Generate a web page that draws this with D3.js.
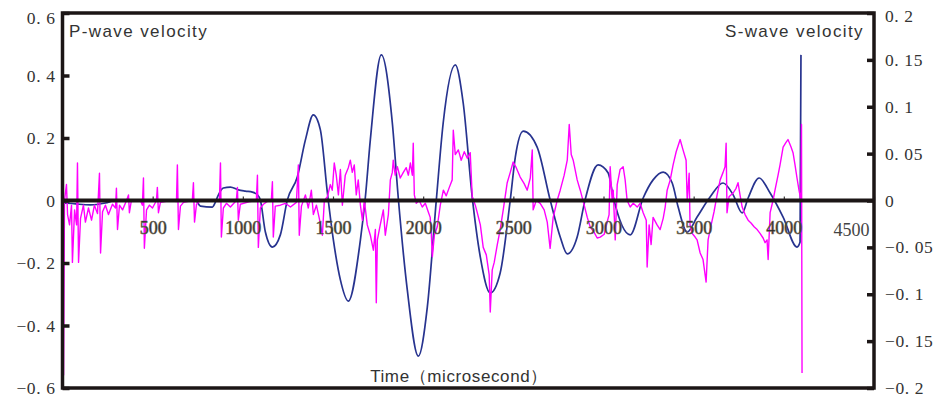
<!DOCTYPE html>
<html>
<head>
<meta charset="utf-8">
<script src="https://cdn.jsdelivr.net/npm/d3@7"></script>
<style>
  html, body { margin: 0; padding: 0; background: #fff; }
  svg { display: block; }
</style>
</head>
<body>
<div id="chart"></div>
<script>
// time axis (microseconds)
const xTicks = [500, 1000, 1500, 2000, 2500, 3000, 3500, 4000, 4500];
// left axis: P-wave velocity
const pTicks = [0.6, 0.4, 0.2, 0, -0.2, -0.4, -0.6];
// right axis: S-wave velocity
const sTicks = [0.2, 0.15, 0.1, 0.05, 0, -0.05, -0.1, -0.15, -0.2];

// P-wave velocity trace [time, value]
const pWave = [
  [0, -0.085], [11, -0.008], [72, -0.011], [155, -0.014], [238, -0.008], [294, 0],
  [737, 0], [765, -0.018], [831, -0.021], [848, -0.005], [859, 0.011], [892, 0.040],
  [931, 0.043], [975, 0.034], [1014, 0.030], [1053, 0.027], [1081, 0.018], [1097, 0.002],
  [1125, -0.101], [1164, -0.149], [1208, -0.110], [1247, 0.002], [1302, 0.075], [1347, 0.194],
  [1391, 0.274], [1430, 0.226], [1469, 0.024], [1502, -0.126], [1541, -0.254], [1585, -0.322],
  [1652, -0.126], [1679, 0.008], [1707, 0.194], [1768, 0.466], [1829, 0.248], [1862, 0.008],
  [1912, -0.286], [1973, -0.498], [2023, -0.341], [2073, 0.002], [2111, 0.248], [2178, 0.434],
  [2222, 0.312], [2272, 0.011], [2317, -0.181], [2372, -0.296], [2427, -0.232], [2483, 0.002],
  [2511, 0.139], [2555, 0.222], [2632, 0.171], [2704, 0.002], [2760, -0.117], [2799, -0.171],
  [2854, -0.117], [2898, 0.002], [2970, 0.114], [3026, 0.088], [3054, 0.011], [3148, -0.110],
  [3220, 0.008], [3275, 0.066], [3331, 0.091], [3381, 0.056], [3414, -0.021], [3464, -0.101],
  [3519, -0.053], [3591, 0.011], [3663, 0.056], [3719, 0.018], [3769, -0.040], [3802, 0.008],
  [3863, 0.072], [3924, 0.024], [3996, -0.053], [4073, -0.149], [4090, -0.133], [4095, 0.466]
];

// S-wave velocity trace [time, value]
const sWave = [
  [0, 0], [6, -0.186], [11, 0], [22, 0.017], [28, -0.015], [39, -0.026], [50, -0.005],
  [55, -0.066], [67, -0.010], [78, -0.026], [83, 0.040], [89, -0.066], [100, -0.019],
  [116, -0.005], [127, -0.023], [144, -0.008], [161, -0.021], [177, -0.005], [194, -0.014],
  [205, 0.029], [211, -0.056], [222, -0.012], [238, -0.005], [255, -0.015], [277, -0.004],
  [294, -0.008], [299, 0.013], [305, -0.031], [316, -0.005], [333, -0.010], [355, 0],
  [366, 0.006], [371, -0.013], [382, 0], [432, 0], [443, -0.005], [449, 0.024], [454, -0.051],
  [466, -0.010], [482, -0.005], [499, -0.008], [521, 0], [526, 0.014], [532, -0.013],
  [543, -0.002], [599, 0], [632, -0.001], [637, 0.038], [643, -0.031], [654, -0.006],
  [671, -0.002], [720, 0], [726, 0.019], [732, -0.023], [743, -0.004], [765, 0], [820, 0],
  [870, -0.001], [876, 0.040], [881, -0.039], [892, -0.008], [909, -0.003], [931, -0.007],
  [964, 0], [970, 0.014], [975, -0.021], [986, -0.004], [1042, -0.001], [1075, 0],
  [1081, 0.027], [1086, -0.050], [1097, -0.008], [1114, -0.004], [1136, -0.001], [1158, 0],
  [1164, 0.020], [1169, -0.039], [1180, -0.006], [1208, -0.005], [1236, -0.003], [1264, -0.007],
  [1297, -0.002], [1308, 0.038], [1313, -0.037], [1325, -0.006], [1347, 0.006], [1363, -0.008],
  [1380, 0.011], [1391, -0.015], [1408, -0.005], [1424, -0.019], [1441, -0.037], [1452, 0],
  [1469, 0.004], [1485, 0.017], [1496, 0.011], [1507, 0.040], [1518, 0.027], [1530, 0.006],
  [1541, 0.033], [1552, -0.005], [1568, 0.027], [1585, 0.035], [1596, 0.043], [1607, 0.030],
  [1618, 0.038], [1629, 0.006], [1640, 0.022], [1652, -0.005], [1663, -0.021], [1674, 0],
  [1690, -0.026], [1707, -0.037], [1724, -0.053], [1735, -0.031], [1740, -0.109], [1746, -0.042],
  [1762, -0.026], [1779, -0.010], [1790, -0.037], [1807, -0.015], [1818, 0.022], [1829, 0.030],
  [1834, 0.043], [1845, 0.027], [1857, 0.036], [1873, 0.024], [1890, 0.030], [1906, 0.035],
  [1918, 0.027], [1929, 0.040], [1940, 0.027], [1945, 0.061], [1951, 0.006], [1962, -0.003],
  [1978, 0], [1995, -0.007], [2012, -0.003], [2028, -0.012], [2039, -0.018], [2045, -0.035],
  [2051, -0.060], [2062, -0.037], [2078, -0.028], [2095, -0.005], [2112, 0.011], [2128, 0.005],
  [2145, 0.014], [2161, 0.022], [2167, 0.075], [2178, 0.049], [2195, 0.054], [2211, 0.043],
  [2228, 0.052], [2245, 0.045], [2261, 0.051], [2272, 0.004], [2289, -0.005], [2300, -0.013],
  [2317, -0.026], [2333, -0.050], [2350, -0.058], [2366, -0.079], [2372, -0.119], [2383, -0.074],
  [2394, -0.066], [2411, -0.047], [2427, -0.031], [2444, -0.010], [2466, 0.019], [2483, 0.030],
  [2499, 0.041], [2516, 0.035], [2538, 0.025], [2560, 0.018], [2577, 0.011], [2594, 0.024],
  [2605, 0.054], [2610, -0.010], [2627, 0], [2649, -0.003], [2671, -0.010], [2688, -0.023],
  [2704, -0.051], [2721, -0.018], [2743, 0], [2760, 0.011], [2782, 0.027], [2799, 0.043],
  [2810, 0.081], [2821, 0.049], [2832, 0.043], [2854, 0.022], [2871, 0.011], [2893, -0.005],
  [2910, -0.018], [2926, -0.028], [2948, -0.034], [2965, -0.040], [2982, -0.039], [3004, -0.036],
  [3020, -0.023], [3031, -0.015], [3037, 0.036], [3048, 0], [3054, 0.011], [3065, -0.042],
  [3076, 0.017], [3092, 0.033], [3109, 0.036], [3120, 0.022], [3131, 0], [3148, -0.007],
  [3165, -0.003], [3187, -0.007], [3203, -0.003], [3220, -0.013], [3237, -0.021], [3242, -0.071],
  [3253, -0.026], [3264, -0.047], [3275, -0.018], [3297, -0.026], [3314, -0.031], [3331, -0.019],
  [3342, -0.007], [3353, 0.011], [3370, 0.022], [3386, 0.038], [3403, 0.052], [3425, 0.065],
  [3441, 0.054], [3458, 0.043], [3464, 0], [3475, 0.029], [3480, -0.026], [3491, -0.035],
  [3508, -0.039], [3519, -0.042], [3536, -0.056], [3552, -0.063], [3569, -0.087], [3580, -0.042],
  [3597, -0.026], [3613, -0.012], [3630, 0.006], [3647, 0.022], [3663, 0.030], [3674, 0.036],
  [3680, 0.061], [3685, -0.013], [3696, 0.004], [3719, 0.008], [3735, 0.013], [3746, 0.019],
  [3757, 0.006], [3769, -0.007], [3785, -0.015], [3802, -0.021], [3818, -0.024], [3835, -0.028],
  [3852, -0.031], [3868, -0.035], [3885, -0.040], [3896, -0.045], [3907, -0.042], [3913, -0.063],
  [3924, -0.013], [3940, 0], [3951, 0.011], [3968, 0.027], [3979, 0.038], [3996, 0.057],
  [4012, 0.062], [4023, 0.065], [4040, 0.057], [4051, 0.051], [4062, 0.038], [4073, 0.024],
  [4084, 0.011], [4095, 0], [4098, 0.081], [4101, -0.184]
];

const width = 941;
const height = 399;
const margin = { top: 13, right: 67, bottom: 11, left: 62.5 };

const serif = "'Liberation Serif', 'Times New Roman', serif";
const sans = "'Liberation Sans', Arial, sans-serif";

const svg = d3
  .select("#chart")
  .append("svg")
  .attr("width", width)
  .attr("height", height)
  .style("background", "#fff");

const x = d3.scaleLinear().domain([0, 4500]).range([margin.left, width - margin.right]);
const yP = d3.scaleLinear().domain([-0.6, 0.6]).range([height - margin.bottom, margin.top]);
const yS = d3.scaleLinear().domain([-0.2, 0.2]).range([height - margin.bottom, margin.top]);

// "0. 4" / "−0. 2" style labels
const fmt = (d) => (d === 0 ? "0" : String(+d.toFixed(2)).replace("-", "\u2212").replace(".", ". "));

// P-wave (smooth, navy)
const pLine = d3
  .line()
  .x((d) => x(d[0]))
  .y((d) => yP(d[1]))
  .curve(d3.curveMonotoneX);

svg
  .append("path")
  .datum(pWave)
  .attr("fill", "none")
  .attr("stroke", "#27338f")
  .attr("stroke-width", 1.7)
  .attr("d", pLine);

// S-wave (noisy, magenta)
const sLine = d3
  .line()
  .x((d) => x(d[0]))
  .y((d) => yS(d[1]));

svg
  .append("path")
  .datum(sWave)
  .attr("fill", "none")
  .attr("stroke", "#ff00ff")
  .attr("stroke-width", 1.4)
  .attr("stroke-linejoin", "round")
  .attr("d", sLine);

// zero line with small upward ticks and time labels below
const xAxis = svg
  .append("g")
  .attr("transform", `translate(0,${yP(0)})`)
  .call(d3.axisBottom(x).tickValues(xTicks).tickSize(-4).tickPadding(21).tickFormat(d3.format("d")))
  .attr("font-family", serif);

xAxis.select(".domain").remove();
xAxis.selectAll(".tick line").attr("stroke", "#3a3a3a").attr("stroke-width", 1.2);
xAxis
  .selectAll(".tick text")
  .attr("fill", "#262626")
  .attr("stroke", "#6b6250")
  .attr("stroke-width", 0.6)
  .style("font-family", serif)
  .style("font-size", "18px");

// last label sits inside the frame, plain style
xAxis
  .selectAll(".tick")
  .filter((d) => d === 4500)
  .select("text")
  .attr("text-anchor", "end")
  .attr("x", -5)
  .attr("dy", "0.78em")
  .attr("stroke", "none")
  .attr("fill", "#444");

svg
  .append("line")
  .attr("x1", x(0))
  .attr("x2", x(4500))
  .attr("y1", yP(0))
  .attr("y2", yP(0))
  .attr("stroke", "#1c1616")
  .attr("stroke-width", 4);

// left axis (P-wave)
const leftAxis = svg
  .append("g")
  .attr("transform", `translate(${x(0)},0)`)
  .call(d3.axisLeft(yP).tickValues(pTicks).tickSize(-7).tickPadding(7).tickFormat(fmt));

// right axis (S-wave)
const rightAxis = svg
  .append("g")
  .attr("transform", `translate(${x(4500)},0)`)
  .call(d3.axisRight(yS).tickValues(sTicks).tickSize(-7).tickPadding(11).tickFormat(fmt));

[leftAxis, rightAxis].forEach((g) => {
  g.attr("font-family", serif);
  g.select(".domain").remove();
  g.selectAll(".tick line").attr("stroke", "#1c1616").attr("stroke-width", 3.5);
  g.selectAll(".tick text")
    .attr("fill", "#333")
    .style("font-family", serif)
    .style("font-size", "17.5px")
    .style("letter-spacing", "0.6px");
});

// top labels are nudged down inside the page
leftAxis.selectAll(".tick").filter((d) => d === 0.6).select("text").attr("dy", "0.62em");
rightAxis.selectAll(".tick").filter((d) => d === 0.2).select("text").attr("dy", "0.5em");

// frame
svg
  .append("rect")
  .attr("x", x(0))
  .attr("y", margin.top)
  .attr("width", x(4500) - x(0))
  .attr("height", height - margin.bottom - margin.top)
  .attr("fill", "none")
  .attr("stroke", "#1c1616")
  .attr("stroke-width", 3.5);

// titles
svg
  .append("text")
  .attr("x", 69)
  .attr("y", 37)
  .attr("fill", "#333")
  .style("font-family", sans)
  .style("font-size", "17px")
  .style("letter-spacing", "1.4px")
  .text("P-wave velocity");

svg
  .append("text")
  .attr("x", 864)
  .attr("y", 37)
  .attr("text-anchor", "end")
  .attr("fill", "#333")
  .style("font-family", sans)
  .style("font-size", "17px")
  .style("letter-spacing", "1.4px")
  .text("S-wave velocity");

svg
  .append("text")
  .attr("x", 459)
  .attr("y", 382)
  .attr("text-anchor", "middle")
  .attr("fill", "#333")
  .style("font-family", sans)
  .style("font-size", "17px")
  .style("letter-spacing", "0.6px")
  .text("Time（microsecond）");
</script>
</body>
</html>
